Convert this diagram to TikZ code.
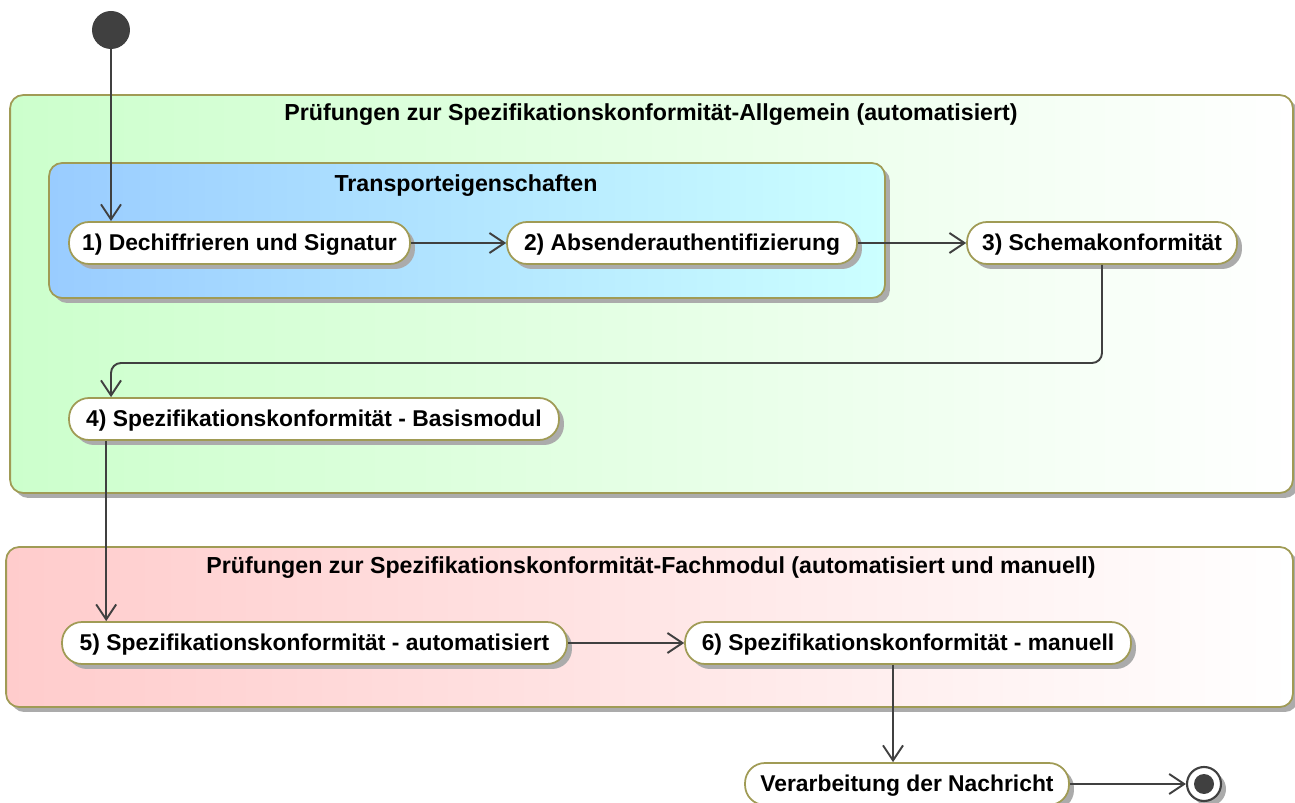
\documentclass[tikz,border=0pt]{standalone}
\usepackage{fontspec}
\setmainfont{Liberation Sans}
\usepackage{xcolor}
\usetikzlibrary{shadows}
\usetikzlibrary{arrows.meta}
\usetikzlibrary{calc}
\definecolor{brd}{RGB}{160,155,85}
\definecolor{ink}{RGB}{64,64,64}
\definecolor{grn}{RGB}{204,255,204}
\definecolor{blu}{RGB}{153,204,255}
\definecolor{cyn}{RGB}{204,255,255}
\definecolor{rosa}{RGB}{255,204,204}

\begin{document}
\begin{tikzpicture}[x=0.02cm, y=-0.02cm,
  shad/.style={drop shadow={shadow xshift=1mm, shadow yshift=-1mm, fill=black!33, opacity=1}},
  box/.style={draw=brd, line width=1pt, rounded corners=2.6mm, shad, inner sep=0pt},
  act/.style={draw=brd, line width=1pt, fill=white, rounded corners=4mm, shad,
    minimum height=0.84cm, inner sep=0pt, text height=8.6pt, text depth=0pt,
    font=\bfseries\fontsize{13}{15}\selectfont},
  ttl/.style={inner sep=0pt, text height=8.6pt, text depth=0pt, font=\bfseries\fontsize{13.2}{15}\selectfont},
  flow/.style={draw=ink, line width=1.1pt, -{Straight Barb[length=3mm, width=4mm]}}]
\useasboundingbox (0,0) rectangle (1295,803);

% Bereiche
\node [box, left color=grn, right color=white, minimum width=25.66cm, minimum height=7.96cm] (allg) at (651.5,294) {};
\node [ttl] (tallg) at (651,113) {Prüfungen zur Spezifikationskonformität-Allgemein (automatisiert)};
\node [box, left color=blu, right color=cyn, minimum width=16.72cm, minimum height=2.7cm] (trans) at (467,230.5) {};
\node [ttl] (ttrans) at (466,184) {Transporteigenschaften};
\node [box, left color=rosa, right color=white, minimum width=25.74cm, minimum height=3.2cm] (fach) at (649.5,627) {};
\node [ttl] (tfach) at (651,566) {Prüfungen zur Spezifikationskonformität-Fachmodul (automatisiert und manuell)};

% Start / Ende
\node [circle, fill=ink, minimum size=0.76cm, inner sep=0pt] (start) at (111,30) {};
\node [circle, draw=ink, line width=1.2pt, fill=white, minimum size=0.68cm, inner sep=0pt, shad] (ende) at (1204,784) {};
\node [circle, fill=ink, minimum size=0.4cm, inner sep=0pt] (endi) at (1204,784) {};

% Aktionen
\node [act, minimum width=6.82cm] (n1) at (239.5,243) {1) Dechiffrieren und Signatur};
\node [act, minimum width=7.0cm] (n2) at (682,243) {2) Absenderauthentifizierung};
\node [act, minimum width=5.4cm] (n3) at (1102,243) {3) Schemakonformität};
\node [act, minimum width=9.8cm] (n4) at (314,419) {4) Spezifikationskonformität - Basismodul};
\node [act, minimum width=10.1cm] (n5) at (314.5,643) {5) Spezifikationskonformität - automatisiert};
\node [act, minimum width=8.92cm] (n6) at (908,643) {6) Spezifikationskonformität - manuell};
\node [act, minimum width=6.48cm] (nv) at (907,784) {Verarbeitung der Nachricht};

% Übergänge
\coordinate (knick) at (111,363);
\coordinate (d45) at ($(n4.south west)+(38,0)$);
\coordinate (d6v) at (893,0);
\draw [flow] (start) -- (start |- n1.north);
\draw [flow] (n1) -- (n2);
\draw [flow] (n2) -- (n3);
\draw [flow, rounded corners=2mm] (n3.south) |- (knick) -- (knick |- n4.north);
\draw [flow] (d45) -- (d45 |- n5.north);
\draw [flow] (n5) -- (n6);
\draw [flow] (d6v |- n6.south) -- (d6v |- nv.north);
\draw [flow] (nv) -- (ende);
\end{tikzpicture}
\end{document}
